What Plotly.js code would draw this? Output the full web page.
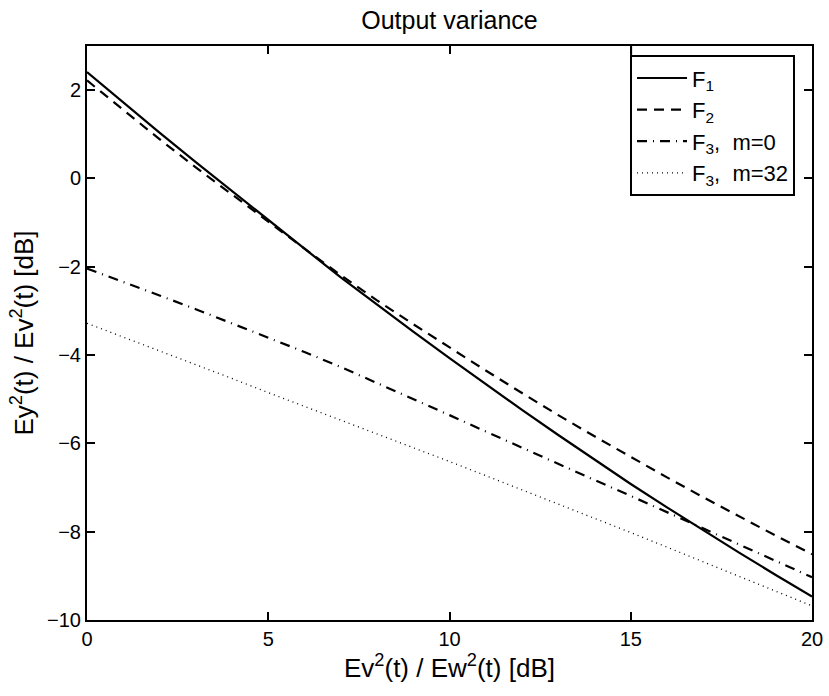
<!DOCTYPE html>
<html>
<head>
<meta charset="utf-8">
<script src="https://cdn.plot.ly/plotly-3.0.1.min.js"></script>
<style>html,body{margin:0;padding:0;background:#fff;}#chart{width:829px;height:696px;}</style>
</head>
<body>
<div id="chart"></div>
<script>
const xValues = [0,1,2,3,4,5,6,7,8,9,10,11,12,13,14,15,16,17,18,19,20];
const f1 = [2.41,1.72,1.04,0.37,-0.29,-0.94,-1.59,-2.24,-2.86,-3.47,-4.07,-4.66,-5.24,-5.81,-6.37,-6.92,-7.45,-7.97,-8.48,-8.98,-9.47];
const f2 = [2.22,1.55,0.89,0.25,-0.37,-0.98,-1.59,-2.19,-2.76,-3.30,-3.83,-4.35,-4.86,-5.36,-5.84,-6.31,-6.77,-7.22,-7.66,-8.09,-8.51];
const f3m0 = [-2.04,-2.34,-2.65,-2.96,-3.28,-3.60,-3.93,-4.27,-4.63,-4.99,-5.36,-5.73,-6.10,-6.47,-6.83,-7.19,-7.56,-7.93,-8.30,-8.66,-9.03];
const f3m32 = [-3.28,-3.59,-3.90,-4.22,-4.53,-4.85,-5.16,-5.47,-5.78,-6.10,-6.41,-6.73,-7.05,-7.37,-7.69,-8.02,-8.35,-8.68,-9.01,-9.34,-9.68];
const seriesNames = ['F<sub>1</sub>','F<sub>2</sub>','F<sub>3</sub>,  m=0','F<sub>3</sub>,  m=32'];
const xTicks = [0,5,10,15,20];
const yTicks = [-10,-8,-6,-4,-2,0,2];

const FONT = 'Liberation Sans, Arial, Helvetica, sans-serif';
const traces = [
  {x:xValues, y:f1, name:seriesNames[0], mode:'lines', line:{color:'#000', width:2.2, dash:'solid'}},
  {x:xValues, y:f2, name:seriesNames[1], mode:'lines', line:{color:'#000', width:2.2, dash:'10px,7px'}},
  {x:xValues, y:f3m0, name:seriesNames[2], mode:'lines', line:{color:'#000', width:2.2, dash:'10px,6px,1px,6px'}},
  {x:xValues, y:f3m32, name:seriesNames[3], mode:'lines', line:{color:'#000', width:1.3, dash:'1px,4px'}}
];
const axisCommon = {
  showgrid:false, zeroline:false, showline:true, linecolor:'#000', linewidth:2,
  mirror:'ticks', ticks:'inside', ticklen:8, tickwidth:2, tickcolor:'#000',
  tickfont:{family:FONT, size:20, color:'#000'}
};
const layout = {
  width:829, height:696,
  paper_bgcolor:'#fff', plot_bgcolor:'#fff',
  margin:{l:87, r:17, t:46, b:76},
  font:{family:FONT, color:'#000'},
  title:{text:'Output variance', xref:'paper', x:0.5, xanchor:'center', y:0.971, yanchor:'middle', font:{family:FONT, size:25, color:'#000'}},
  xaxis:Object.assign({}, axisCommon, {range:[0,20], tickvals:xTicks, ticktext:xTicks.map(String),
    title:{text:'Ev<sup>2</sup>(t) / Ew<sup>2</sup>(t) [dB]', font:{family:FONT, size:26, color:'#000'}, standoff:6}}),
  yaxis:Object.assign({}, axisCommon, {range:[-10,3], tickvals:yTicks,
    title:{text:'Ey<sup>2</sup>(t) / Ev<sup>2</sup>(t) [dB]', font:{family:FONT, size:26, color:'#000'}, standoff:6}}),
  showlegend:true,
  legend:{x:0.749, xanchor:'left', y:0.984, yanchor:'top', bgcolor:'#fff', bordercolor:'#000', borderwidth:2,
    font:{family:FONT, size:22, color:'#000'}, itemwidth:50, tracegroupgap:0},
  shapes:[{type:'line', xref:'paper', yref:'paper', x0:0.7505, x1:0.7505, y0:0.984, y1:1, line:{color:'#000', width:2}}]
};
Plotly.newPlot('chart', traces, layout, {displayModeBar:false, staticPlot:true});
</script>
</body>
</html>
